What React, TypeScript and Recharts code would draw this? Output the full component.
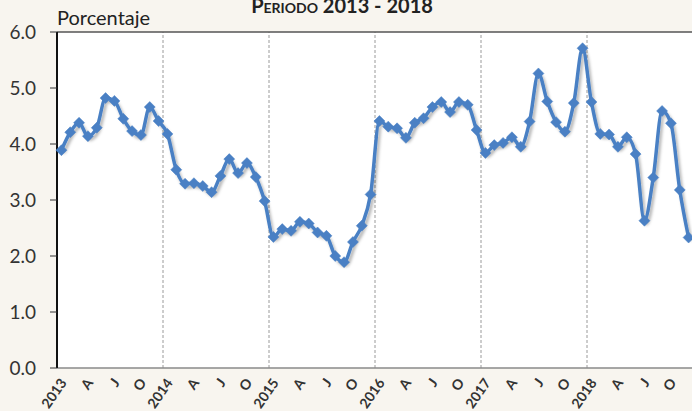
import { CartesianGrid, Line, LineChart, ReferenceLine, XAxis, YAxis } from "recharts";

const years = ["2013", "2014", "2015", "2016", "2017", "2018"];
const quarterLetters = ["A", "J", "O"];

const tasa2013 = [3.89, 4.21, 4.38, 4.14, 4.29, 4.82, 4.77, 4.45, 4.23, 4.16, 4.66, 4.41];
const tasa2014 = [4.18, 3.54, 3.29, 3.3, 3.25, 3.14, 3.43, 3.73, 3.48, 3.66, 3.41, 2.98];
const tasa2015 = [2.34, 2.48, 2.45, 2.61, 2.58, 2.42, 2.36, 2.0, 1.89, 2.25, 2.54, 3.1];
const tasa2016 = [4.41, 4.31, 4.28, 4.11, 4.38, 4.46, 4.66, 4.75, 4.57, 4.75, 4.7, 4.25];
const tasa2017 = [3.84, 3.98, 4.02, 4.12, 3.95, 4.4, 5.26, 4.76, 4.39, 4.22, 4.73, 5.71];
const tasa2018 = [4.75, 4.18, 4.17, 3.95, 4.12, 3.82, 2.63, 3.4, 4.59, 4.37, 3.18, 2.33];

const yTicks = [0, 1, 2, 3, 4, 5, 6];

const values = [...tasa2013, ...tasa2014, ...tasa2015, ...tasa2016, ...tasa2017, ...tasa2018];
const data = values.map((v, i) => ({ mes: i, tasa: v }));

// one label each quarter: year on January, letter on April / July / October
const tickLabels = years.flatMap((y) => [y, ...quarterLetters]);
const xTicks = tickLabels.map((_, i) => i * 3);
const yearBreaks = years.slice(1).map((_, i) => (i + 1) * 12 - 0.5);

const BLUE = "#4a80c4";
const FONT = "Lato, 'Open Sans', sans-serif";

function Diamond(props: any) {
  const { cx, cy } = props;
  if (cx == null || cy == null) return null;
  const r = 5.5;
  return (
    <polygon
      points={`${cx},${cy - r} ${cx + r},${cy} ${cx},${cy + r} ${cx - r},${cy}`}
      fill={BLUE}
      stroke={BLUE}
      strokeWidth={0.5}
    />
  );
}

function MonthTick(props: any) {
  const { x, payload } = props;
  const label = tickLabels[payload.value / 3] ?? "";
  return (
    <g transform={`translate(${x + 2},${380})`}>
      <text
        x={0}
        y={0}
        dy="0.35em"
        textAnchor="end"
        transform="rotate(-55)"
        fontSize={14}
        fontWeight="bold"
        fill="#333"
        fontFamily={FONT}
      >
        {label}
      </text>
    </g>
  );
}

export default function App() {
  return (
    <div
      style={{
        position: "absolute",
        left: 0,
        top: 0,
        width: 692,
        height: 411,
        overflow: "hidden",
        background: "#f8f5ef",
        fontFamily: FONT,
      }}
    >
      <div
        style={{
          position: "absolute",
          left: 0,
          width: 684,
          top: -7,
          textAlign: "center",
          fontSize: 20,
          fontWeight: "bold",
          fontVariant: "small-caps",
          color: "#222",
        }}
      >
        Periodo 2013 - 2018
      </div>
      <div style={{ position: "absolute", left: 57, top: 5, fontSize: 20, color: "#222" }}>Porcentaje</div>
      <LineChart width={700} height={411} data={data} margin={{ top: 32, right: 7, bottom: 0, left: 0 }}>
        <defs>
          <filter id="sombra" x="-10%" y="-10%" width="120%" height="130%">
            <feDropShadow dx="2" dy="3" stdDeviation="1.5" floodColor="#000" floodOpacity="0.3" />
          </filter>
        </defs>
        <CartesianGrid fill="#ffffff" vertical={false} horizontal={false} />
        <XAxis
          type="number"
          dataKey="mes"
          domain={[-0.5, 71.5]}
          ticks={xTicks}
          interval={0}
          height={43}
          tick={<MonthTick />}
          tickLine={false}
          axisLine={{ stroke: "#8a8a8a", strokeWidth: 1.5 }}
        />
        <YAxis
          type="number"
          domain={[0, 6]}
          ticks={yTicks}
          width={57}
          tickSize={7}
          tickMargin={14}
          tickFormatter={(v: number) => v.toFixed(1)}
          tick={{ fontSize: 19, fill: "#333", fontFamily: FONT }}
          tickLine={{ stroke: "#333" }}
          axisLine={{ stroke: "#111", strokeWidth: 2 }}
        />
        {yearBreaks.map((x) => (
          <ReferenceLine key={x} x={x} stroke="#9a9a9a" strokeDasharray="3 2" />
        ))}
        <ReferenceLine y={6} stroke="#555" strokeWidth={1.5} />
        <Line
          type="monotone"
          dataKey="tasa"
          stroke={BLUE}
          strokeWidth={3.5}
          dot={<Diamond />}
          activeDot={false}
          isAnimationActive={false}
          filter="url(#sombra)"
        />
      </LineChart>
    </div>
  );
}
